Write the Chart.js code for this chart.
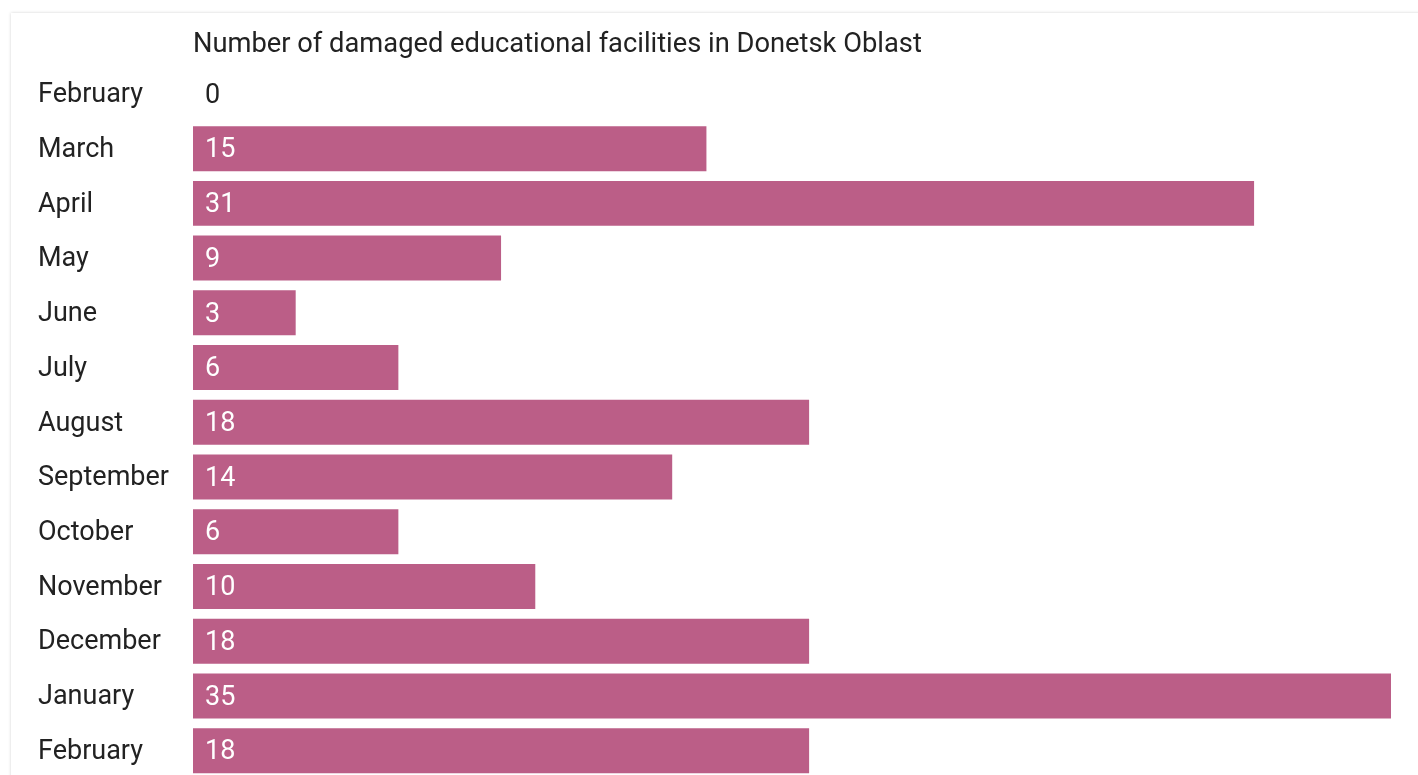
<!DOCTYPE html>
<html>
<head>
<meta charset="utf-8">
<script src="https://cdn.jsdelivr.net/npm/chart.js@4/dist/chart.umd.min.js"></script>
<style>
  html, body { margin: 0; padding: 0; background: #fff; overflow: hidden; width: 1418px; height: 775px; }
  .card { position: absolute; left: 11px; top: 13px; width: 1440px; height: 800px; background: #fff;
          box-shadow: 0 0 3px rgba(0,0,0,0.18); }
  .wrap { position: absolute; left: 0; top: 0; width: 1418px; height: 800px; }
</style>
</head>
<body>
<div class="card"></div>
<div class="wrap"><canvas id="c-damaged"></canvas></div>
<script>
var months = ['February','March','April','May','June','July','August','September','October','November','December','January','February'];
var damaged = [0, 15, 31, 9, 3, 6, 18, 14, 6, 10, 18, 35, 18];
var chartTitle = 'Number of damaged educational facilities in Donetsk Oblast';

var barColor = '#bb5e87';
var textColor = '#222222';
var fontFamily = 'Roboto, "Noto Sans", sans-serif';
var fontSize = 27;

// writes each value just inside the start of its bar
var valueLabels = {
  id: 'valueLabels',
  afterDatasetsDraw: function(chart) {
    var ctx = chart.ctx;
    var meta = chart.getDatasetMeta(0);
    ctx.save();
    ctx.font = fontSize + 'px ' + fontFamily;
    ctx.textBaseline = 'middle';
    ctx.textAlign = 'left';
    meta.data.forEach(function(bar, i) {
      var v = damaged[i];
      ctx.fillStyle = v > 0 ? '#ffffff' : textColor;
      ctx.fillText(String(v), bar.base + 12, bar.y + 2);
    });
    ctx.restore();
  }
};

new Chart(document.getElementById('c-damaged'), {
  type: 'bar',
  data: {
    labels: months,
    datasets: [{
      label: chartTitle,
      data: damaged,
      backgroundColor: barColor,
      borderWidth: 0,
      barPercentage: 1,
      categoryPercentage: 0.822
    }]
  },
  options: {
    indexAxis: 'y',
    responsive: true,
    maintainAspectRatio: false,
    animation: false,
    layout: { padding: { left: 38, right: 27, top: 0, bottom: 22 } },
    plugins: {
      legend: { display: false },
      tooltip: { enabled: false },
      title: {
        display: true,
        text: chartTitle,
        align: 'start',
        fullSize: false,
        color: textColor,
        font: { family: fontFamily, size: 27.3, weight: 'normal' },
        padding: { top: 28.6, bottom: 5.2 }
      }
    },
    scales: {
      x: { display: false, min: 0, max: 35 },
      y: {
        grid: { display: false },
        border: { display: false },
        ticks: {
          color: textColor,
          crossAlign: 'far',
          font: { family: fontFamily, size: fontSize },
          padding: 0,
          labelOffset: 1.5
        },
        afterFit: function(scale) { scale.width = 155; }
      }
    }
  },
  plugins: [valueLabels]
});
</script>
</body>
</html>
